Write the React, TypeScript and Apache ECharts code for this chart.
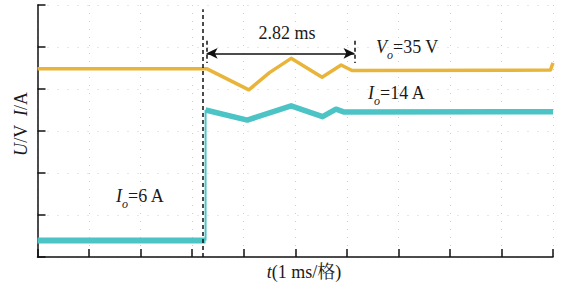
import React, { useEffect, useRef } from "react";
import * as echarts from "echarts";

// time in ms (1 ms per division), values in display units (10 per division)
const voltageTrace: [number, number][] = [
  [0, 44.8], [3.29, 44.8], [4.1, 39.8], [4.5, 43.9], [4.92, 47.3],
  [5.52, 42.8], [5.89, 45.7], [6.1, 44.4], [9.95, 44.5], [10, 46.2],
];
const currentBefore: [number, number][] = [[0, 3.9], [3.26, 3.9]];
const currentAfter: [number, number][] = [
  [3.26, 35.0], [4.07, 32.6], [4.92, 36.0],
  [5.53, 33.4], [5.79, 35.2], [5.95, 34.5], [10, 34.6],
];
const stepTime = 3.2;
const transientStart = 3.28;
const transientEnd = 6.15;
const arrowLevel = 48.5;
const markTop = 51.5;
const markBottom = 46.2;
const durationText = "2.82 ms";
const voltageText = "{i|V}{s|o}{n|=35 V}";
const currentHighText = "{i|I}{s|o}{n|=14 A}";
const currentLowText = "{i|I}{s|o}{n|=6 A}";
const yNameText = "{i|U}{n|/V  }{i|I}{n|/A}";
const xNameText = "{i|t}{n|(1 ms/格)}";

const FONT = "'Liberation Serif', 'Times New Roman', 'Noto Serif CJK SC', 'Noto Sans CJK SC', serif";
const TXT = "#1a1a1a";
const CYAN = "#4cc4c6";

const rich = {
  i: { fontStyle: "italic", fontSize: 18, fontFamily: FONT, fill: TXT, lineHeight: 28, verticalAlign: "middle" },
  n: { fontSize: 18, fontFamily: FONT, fill: TXT, lineHeight: 28, verticalAlign: "middle" },
  s: { fontStyle: "italic", fontSize: 12, fontFamily: FONT, fill: TXT, lineHeight: 12, verticalAlign: "bottom" },
};

export default function App() {
  const ref = useRef<HTMLDivElement>(null);
  useEffect(() => {
    if (!ref.current) return;
    const chart = echarts.init(ref.current, undefined, { renderer: "svg" });
    const axisCommon = {
      type: "value",
      axisLine: { show: true, onZero: false, lineStyle: { color: "#111", width: 1.5 } },
      axisTick: { show: true, inside: true, length: 8, lineStyle: { color: "#111", width: 1.5 } },
      axisLabel: { show: false },
    };
    const stepLine: [number, number][] = [
      currentBefore[currentBefore.length - 1],
      currentAfter[0],
    ];
    chart.setOption({
      animation: false,
      backgroundColor: "#fff",
      grid: { left: 37.5, right: 15, top: 5, bottom: 36 },
      xAxis: {
        ...axisCommon,
        min: 0, max: 10, interval: 1,
        splitLine: { show: true, lineStyle: { color: "#cfcfcf", width: 1, type: [1, 7] } },
      },
      yAxis: {
        ...axisCommon,
        min: 0, max: 60, interval: 10,
        splitLine: { show: true, lineStyle: { color: "#cfcfcf", width: 1, type: [1, 9] } },
      },
      series: [
        {
          type: "line",
          data: currentBefore,
          showSymbol: false,
          lineStyle: { color: CYAN, width: 6 },
          z: 2,
        },
        {
          type: "line",
          data: stepLine,
          showSymbol: false,
          lineStyle: { color: CYAN, width: 2 },
          z: 2,
        },
        {
          type: "line",
          data: currentAfter,
          showSymbol: false,
          lineStyle: { color: CYAN, width: 5.5, cap: "butt", join: "round" },
          z: 2,
        },
        {
          type: "line",
          data: voltageTrace,
          showSymbol: false,
          lineStyle: { color: "#e9b43a", width: 3.5, join: "round" },
          z: 3,
          markLine: {
            silent: true,
            symbol: "none",
            label: { show: false },
            lineStyle: { color: "#111", width: 1.5, type: [4, 3] },
            data: [
              [{ coord: [stepTime, 0] }, { coord: [stepTime, 59] }],
              [{ coord: [transientStart, markTop] }, { coord: [transientStart, markBottom] }],
              [{ coord: [transientEnd, markTop] }, { coord: [transientEnd, markBottom] }],
              [
                { coord: [transientStart, arrowLevel], symbol: "arrow", symbolSize: [8, 11], lineStyle: { type: "solid", width: 1.5 } },
                { coord: [transientEnd, arrowLevel], symbol: "arrow", symbolSize: [8, 11] },
              ],
            ],
          },
        },
      ],
      graphic: [
        { type: "text", x: 287, y: 33, style: { text: durationText, fontSize: 18, fontFamily: FONT, fill: TXT, align: "center", verticalAlign: "middle" } },
        { type: "text", x: 376, y: 47, style: { text: voltageText, rich, align: "left", verticalAlign: "middle" } },
        { type: "text", x: 368, y: 93, style: { text: currentHighText, rich, align: "left", verticalAlign: "middle" } },
        { type: "text", x: 116, y: 196, style: { text: currentLowText, rich, align: "left", verticalAlign: "middle" } },
        { type: "text", x: 21, y: 124, rotation: Math.PI / 2, style: { text: yNameText, rich, align: "center", verticalAlign: "middle" } },
        { type: "text", x: 304, y: 272, style: { text: xNameText, rich, align: "center", verticalAlign: "middle" } },
      ],
    });
    return () => chart.dispose();
  }, []);
  return (
    <div
      ref={ref}
      style={{ position: "fixed", left: 0, top: 0, width: 568, height: 293 }}
    />
  );
}
